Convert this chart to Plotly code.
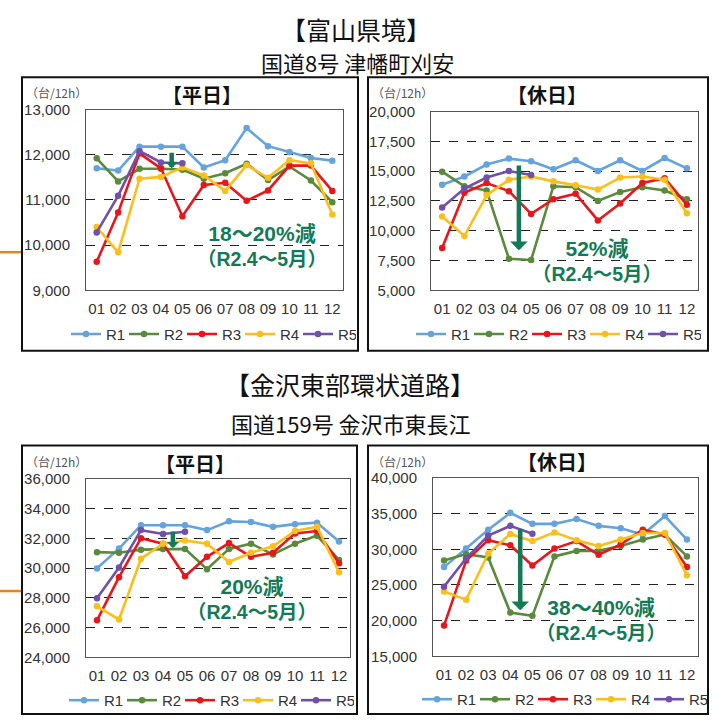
import plotly.graph_objects as go

W, H = 717, 726

# ---- data -------------------------------------------------------------
months = ["01", "02", "03", "04", "05", "06", "07", "08", "09", "10", "11", "12"]
series_names = ["R1", "R2", "R3", "R4", "R5"]
series_colors = ["#65a3dc", "#5a8a3c", "#e8161b", "#fbbf1c", "#7050a8"]

# 富山県境 / 平日 (台/12h)
toyama_wd_r1 = [11700, 11650, 12180, 12180, 12180, 11720, 11880, 12590, 12190, 12060, 11930, 11870]
toyama_wd_r2 = [11920, 11410, 11690, 11690, 11670, 11470, 11590, 11800, 11440, 11740, 11430, 10950]
toyama_wd_r3 = [9630, 10720, 12030, 11700, 10640, 11330, 11380, 10980, 11210, 11760, 11760, 11200]
toyama_wd_r4 = [10400, 9840, 11470, 11510, 11720, 11540, 11200, 11770, 11490, 11880, 11810, 10680]
toyama_wd_r5 = [10280, 11090, 12080, 11830, 11810]

# 富山県境 / 休日
toyama_hd_r1 = [13860, 14550, 15550, 16050, 15830, 15150, 15910, 15010, 15910, 15010, 16100, 15230]
toyama_hd_r2 = [14950, 13730, 13370, 7640, 7540, 13730, 13650, 12500, 13240, 13650, 13370, 12640]
toyama_hd_r3 = [8550, 13180, 14000, 13320, 11410, 12640, 13100, 10860, 12280, 14000, 14410, 12170]
toyama_hd_r4 = [11190, 9550, 12990, 14270, 14550, 14140, 13810, 13450, 14460, 14550, 14270, 11460]
toyama_hd_r5 = [11950, 13540, 14460, 15010, 14680]

# 金沢東部環状道路 / 平日
kanazawa_wd_r1 = [29980, 31310, 32880, 32880, 32880, 32550, 33140, 33100, 32770, 32950, 33050, 31790]
kanazawa_wd_r2 = [31070, 31030, 31240, 31290, 31290, 29930, 31290, 31640, 30920, 31640, 32180, 30550]
kanazawa_wd_r3 = [26490, 29390, 32010, 31640, 29450, 30760, 31680, 30760, 31030, 32330, 32490, 30330]
kanazawa_wd_r4 = [27430, 26550, 30630, 31640, 31850, 31640, 30410, 31030, 31460, 32490, 32770, 29720]
kanazawa_wd_r5 = [27970, 30040, 32550, 32290, 32440]

# 金沢東部環状道路 / 休日
kanazawa_hd_r1 = [27500, 30090, 32730, 35090, 33550, 33550, 34230, 33270, 32950, 32050, 34640, 31360]
kanazawa_hd_r2 = [28410, 29320, 28860, 21140, 20680, 29000, 29770, 29770, 30450, 31360, 32050, 29000]
kanazawa_hd_r3 = [19320, 28410, 31270, 30550, 27730, 30090, 31140, 29230, 30680, 32730, 32050, 27500]
kanazawa_hd_r4 = [24090, 22950, 29410, 32140, 31140, 32360, 31270, 30450, 31360, 32270, 32270, 26360]
kanazawa_hd_r5 = [24770, 28730, 31910, 33270, 32180]

# decrease arrows: (x position between months, start value, end value)
arrow_toyama_wd = [3.5, 12080, 11700]
arrow_toyama_hd = [3.45, 15600, 8350]
arrow_kanazawa_wd = [3.45, 32550, 31350]
arrow_kanazawa_hd = [3.45, 33090, 21450]

labels_toyama_wd = ["18～20%減", "（R2.4～5月）"]
labels_toyama_hd = ["52%減", "（R2.4～5月）"]
labels_kanazawa_wd = ["20%減", "（R2.4～5月）"]
labels_kanazawa_hd = ["38～40%減", "（R2.4～5月）"]

# ---- layout helpers ---------------------------------------------------
def px(x):
    return x / W


def py(y):
    return 1 - y / H


FONT = "Liberation Sans, Arial, Noto Sans CJK JP, sans-serif"
JFONT = "Noto Sans CJK JP, sans-serif"
GREEN = "#127a55"

panels = [
    dict(name="1", data=[toyama_wd_r1, toyama_wd_r2, toyama_wd_r3, toyama_wd_r4, toyama_wd_r5],
         dom_x=(86, 343), dom_y=(103, 288), yrange=(9000, 13000), dtick=1000,
         box=(22, 70, 358, 350), title="【平日】", title_xy=(202, 88), unit_xy=(24, 85),
         legend_xy=(211, 333), arrow=arrow_toyama_wd, head=0.45, labels=labels_toyama_wd,
         label_xy=(262, 243)),
    dict(name="2", data=[toyama_hd_r1, toyama_hd_r2, toyama_hd_r3, toyama_hd_r4, toyama_hd_r5],
         dom_x=(431, 698), dom_y=(105, 288), yrange=(5000, 20000), dtick=2500,
         box=(368, 70, 708, 350), title="【休日】", title_xy=(547, 88), unit_xy=(370, 85),
         legend_xy=(556, 333), arrow=arrow_toyama_hd, head=0.65, labels=labels_toyama_hd,
         label_xy=(597, 258)),
    dict(name="3", data=[kanazawa_wd_r1, kanazawa_wd_r2, kanazawa_wd_r3, kanazawa_wd_r4, kanazawa_wd_r5],
         dom_x=(86, 350), dom_y=(481, 664), yrange=(24000, 36000), dtick=2000,
         box=(22, 447, 357, 722), title="【平日】", title_xy=(195, 465), unit_xy=(24, 463),
         legend_xy=(209, 708), arrow=arrow_kanazawa_wd, head=0.45, labels=labels_kanazawa_wd,
         label_xy=(252, 604)),
    dict(name="4", data=[kanazawa_hd_r1, kanazawa_hd_r2, kanazawa_hd_r3, kanazawa_hd_r4, kanazawa_hd_r5],
         dom_x=(433, 698), dom_y=(480, 663), yrange=(15000, 40000), dtick=5000,
         box=(368, 447, 708, 722), title="【休日】", title_xy=(557, 463), unit_xy=(370, 463),
         legend_xy=(562, 707), arrow=arrow_kanazawa_hd, head=0.65, labels=labels_kanazawa_hd,
         label_xy=(601, 626)),
]

fig = go.Figure()
layout = dict(
    width=W, height=H, autosize=False,
    margin=dict(l=0, r=0, t=0, b=0),
    paper_bgcolor="white", plot_bgcolor="white",
    font=dict(family=FONT, size=14, color="#404040"),
    shapes=[], annotations=[],
)

for p in panels:
    n = p["name"]
    xa = "x" if n == "1" else "x" + n
    ya = "y" if n == "1" else "y" + n
    leg = "legend" if n == "1" else "legend" + n

    for name, color, vals in zip(series_names, series_colors, p["data"]):
        fig.add_trace(go.Scatter(
            x=list(range(len(vals))), y=vals, name=name,
            mode="lines+markers",
            line=dict(color=color, width=2.6),
            marker=dict(color=color, size=6.5),
            xaxis=xa, yaxis=ya, legend=leg, showlegend=True,
        ))

    ax_common = dict(showline=True, mirror=True, linecolor="#555555", linewidth=1,
                     zeroline=False, ticks="", fixedrange=True)
    layout["xaxis" + ("" if n == "1" else n)] = dict(
        ax_common, domain=[px(p["dom_x"][0]), px(p["dom_x"][1])],
        anchor=ya, range=[-0.5, 11.5], tickmode="array",
        tickvals=list(range(12)), ticktext=months, showgrid=False,
        ticklabelstandoff=5, tickfont=dict(size=15, color="#333333"),
    )
    layout["yaxis" + ("" if n == "1" else n)] = dict(
        ax_common, domain=[py(p["dom_y"][1]), py(p["dom_y"][0])],
        anchor=xa, range=list(p["yrange"]), dtick=p["dtick"], tick0=0,
        tickformat=",", showgrid=True, gridcolor="#222222", griddash="dash",
        gridwidth=1, ticklabelstandoff=12, tickfont=dict(size=15, color="#333333"),
    )
    layout[leg] = dict(
        orientation="h", x=px(p["legend_xy"][0]), y=py(p["legend_xy"][1]),
        xanchor="center", yanchor="middle", bgcolor="rgba(0,0,0,0)",
        font=dict(size=15, color="#333333", family=FONT),
        itemwidth=30, tracegroupgap=0, entrywidth=13, entrywidthmode="pixels",
    )

    # outer frame
    b = p["box"]
    layout["shapes"].append(dict(
        type="rect", xref="paper", yref="paper",
        x0=px(b[0]), x1=px(b[2]), y0=py(b[3]), y1=py(b[1]),
        line=dict(color="#111111", width=2), fillcolor="rgba(0,0,0,0)", layer="above",
    ))

    # panel heading and unit
    layout["annotations"].append(dict(
        xref="paper", yref="paper", x=px(p["title_xy"][0]), y=py(p["title_xy"][1]),
        text="<b>" + p["title"] + "</b>", showarrow=False, xanchor="center", yanchor="middle",
        font=dict(family=JFONT, size=20, color="#111111"),
    ))
    layout["annotations"].append(dict(
        xref="paper", yref="paper", x=px(p["unit_xy"][0]), y=py(p["unit_xy"][1]),
        text="（台/12h）", showarrow=False, xanchor="left", yanchor="middle",
        font=dict(family=JFONT, size=12, color="#555555"),
    ))

    # decrease arrow
    a = p["arrow"]
    layout["annotations"].append(dict(
        xref=xa, yref=ya, axref=xa, ayref=ya,
        x=a[0], y=a[2], ax=a[0], ay=a[1], text="",
        showarrow=True, arrowhead=1, arrowsize=p["head"], arrowwidth=4.5,
        arrowcolor=GREEN, standoff=0, startstandoff=0,
    ))

    # decrease label (two lines in one text block)
    first, second = p["labels"]
    lx, ly = p["label_xy"]
    layout["annotations"].append(dict(
        xref="paper", yref="paper", x=px(lx), y=py(ly),
        text="<b><span style='font-size:21px'>" + first + "</span><br>" + second + "</b>",
        showarrow=False, xanchor="center", yanchor="middle", align="center",
        font=dict(family=FONT, size=19.5, color=GREEN),
    ))

# section headings
for txt, (tx, ty), size in [
    ("【富山県境】", (356, 20), 25),
    ("国道8号 津幡町刈安", (357, 54), 22),
    ("【金沢東部環状道路】", (350, 384), 25),
    ("国道159号 金沢市東長江", (351, 424), 22),
]:
    layout["annotations"].append(dict(
        xref="paper", yref="paper", x=px(tx), y=py(ty), text=txt,
        showarrow=False, xanchor="center", yanchor="middle",
        font=dict(family=JFONT, size=size, color="#111111"),
    ))

# orange connector marks on the left edge
for yy in (249, 596):
    layout["shapes"].append(dict(
        type="line", xref="paper", yref="paper",
        x0=px(0), x1=px(21), y0=py(yy), y1=py(yy),
        line=dict(color="#e8821e", width=2.5),
    ))

fig.update_layout(**layout)
fig.write_html("out.html")
